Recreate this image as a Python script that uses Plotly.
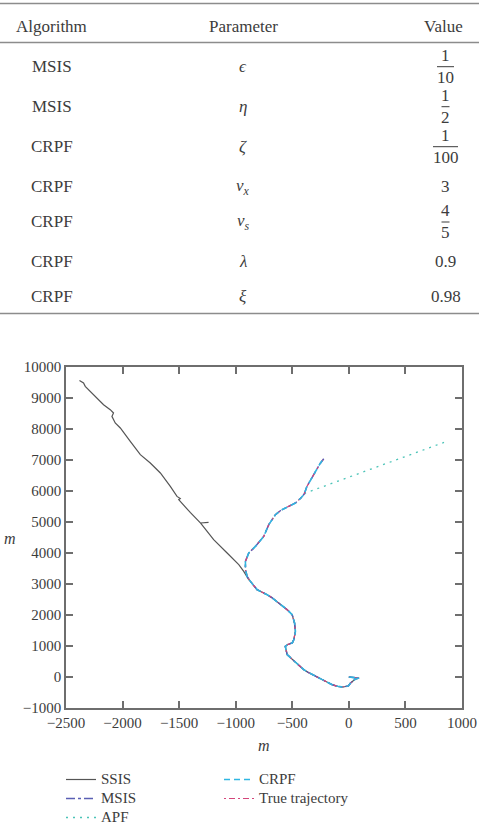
import plotly.graph_objects as go

# ---------------- data ----------------
# table
algorithms = ["MSIS", "MSIS", "CRPF", "CRPF", "CRPF", "CRPF", "CRPF"]
parameters = ["<i>ϵ</i>", "<i>η</i>", "<i>ζ</i>", "<i>ν</i><sub><i>x</i></sub>",
              "<i>ν</i><sub><i>s</i></sub>", "<i>λ</i>", "<i>ξ</i>"]
values = [("1", "10"), ("1", "2"), ("1", "100"), "3", ("4", "5"), "0.9", "0.98"]

# common part of the trajectories (from origin up to the split near -900, 3100)
lower_x = [0, 90, 60, 40, 15, -5, -58, -100, -147, -190, -235, -280, -324, -360, -398,
           -430, -457, -490, -516, -545, -562, -540, -500, -487, -472, -475, -480,
           -501, -545, -590, -634, -680, -722, -770, -811, -870]
lower_y = [0, -35, -60, -120, -194, -290, -323, -300, -248, -170, -87, -10, 74, 150, 235,
           340, 452, 540, 613, 720, 987, 1050, 1100, 1203, 1471, 1600, 1742,
           2010, 2171, 2300, 2439, 2560, 2655, 2740, 2816, 3084]

# upper part followed by MSIS / CRPF / true trajectory
upper_x = [-899, -914, -914, -885, -826, -752, -708, -649, -600, -560, -472, -420,
           -395, -370, -330, -290, -255, -222]
upper_y = [3245, 3461, 3729, 4000, 4213, 4536, 4913, 5236, 5380, 5452, 5613, 5790,
           5900, 6150, 6420, 6690, 6880, 7040]

# APF leaves the common track near (-420, 5800)
apf_upper_x = [-899, -914, -914, -885, -826, -752, -708, -649, -600, -560, -472, -420,
               -383, -73, 841]
apf_upper_y = [3245, 3461, 3729, 4000, 4213, 4536, 4913, 5236, 5380, 5452, 5613, 5790,
               5936, 6349, 7568]

# SSIS leaves the common track near (-880, 3100)
ssis_upper_x = [-885, -929, -973, -1076, -1195, -1312, -1240, -1312, -1400, -1489,
                -1504, -1490, -1519, -1578, -1666, -1755, -1843, -1932, -2020, -2065,
                -2094, -2080, -2109, -2168, -2257, -2330, -2345, -2381]
ssis_upper_y = [3139, 3407, 3623, 4000, 4429, 4968, 4990, 4968, 5300, 5665,
                5720, 5760, 5826, 6149, 6581, 6904, 7171, 7601, 8033, 8194,
                8407, 8517, 8623, 8784, 9107, 9375, 9484, 9568]

x_ticks = [-2500, -2000, -1500, -1000, -500, 0, 500, 1000]
x_tick_labels = ["−2500", "−2000", "−1500", "−1000", "−500", "0", "500", "1000"]
y_ticks = [-1000, 0, 1000, 2000, 3000, 4000, 5000, 6000, 7000, 8000, 9000, 10000]
y_tick_labels = ["−1000", "0", "1000", "2000", "3000", "4000", "5000", "6000", "7000",
                 "8000", "9000", "10000"]

# ---------------- layout helpers ----------------
W, H = 479, 829
ML, MR, MT, MB = 66, 17, 367, 121
PW, PH = W - ML - MR, H - MT - MB


def px2x(px):
    return (px - ML) / PW


def py2y(py):
    return (H - MB - py) / PH


FONT = "Liberation Serif, Times New Roman, serif"
TXT = "#3c3c3c"
AX = "#6e6e6e"


def lname(s):
    return '<span style="font-size:15px">' + s + "</span>"


fig = go.Figure()

common_x = lower_x + upper_x
common_y = lower_y + upper_y

fig.add_trace(go.Scatter(x=lower_x + ssis_upper_x, y=lower_y + ssis_upper_y, mode="lines",
                         name=lname("SSIS"), legendrank=1,
                         line=dict(color="#555555", width=1.2)))
fig.add_trace(go.Scatter(x=lower_x + apf_upper_x, y=lower_y + apf_upper_y, mode="lines",
                         name=lname("APF"), legendrank=5,
                         line=dict(color="#4cc4b8", width=1.3, dash="2px,5px")))
fig.add_trace(go.Scatter(x=common_x, y=common_y, mode="lines",
                         name=lname("MSIS"), legendrank=3,
                         line=dict(color="#5a5fb4", width=1.5, dash="dashdot")))
fig.add_trace(go.Scatter(x=common_x, y=common_y, mode="lines",
                         name=lname("True trajectory"), legendrank=4,
                         line=dict(color="#d4457a", width=1.2, dash="2px,3px,6px,3px")))
fig.add_trace(go.Scatter(x=common_x, y=common_y, mode="lines",
                         name=lname("CRPF"), legendrank=2,
                         line=dict(color="#2fb6e2", width=1.6, dash="6px,4px")))

# ---------------- table ----------------
shapes = []
annotations = []
for py in (3.5, 42.5, 313.5):
    shapes.append(dict(type="line", xref="paper", yref="paper",
                       x0=px2x(0), x1=px2x(W), y0=py2y(py), y1=py2y(py),
                       line=dict(color="#8c8c8c", width=1.5)))


def txt(text, px, py, xanchor="center", size=17):
    annotations.append(dict(text=text, xref="paper", yref="paper", x=px2x(px), y=py2y(py),
                            xanchor=xanchor, yanchor="middle", showarrow=False,
                            font=dict(family=FONT, size=size, color=TXT)))


txt("Algorithm", 14, 26, "left")
txt("Parameter", 243, 26)
txt("Value", 465, 26, "right")

row_y = [66.7, 106.7, 146.7, 186.7, 222.0, 261.7, 296.7]
bar_w = {"10": 17, "2": 8, "100": 25, "5": 8}
for alg, par, val, ry in zip(algorithms, parameters, values, row_y):
    txt(alg, 52, ry)
    txt(par, 243, ry)
    if isinstance(val, tuple):
        num, den = val
        txt(num, 445.5, ry - 11.3)
        txt(den, 445.5, ry + 11.0)
        hw = bar_w[den] / 2
        shapes.append(dict(type="line", xref="paper", yref="paper",
                           x0=px2x(445.5 - hw), x1=px2x(445.5 + hw),
                           y0=py2y(ry), y1=py2y(ry),
                           line=dict(color=TXT, width=1)))
    else:
        txt(val, 445.5, ry)

# axis titles
annotations.append(dict(text="<i>m</i>", xref="paper", yref="paper", x=px2x(264), y=py2y(745),
                        xanchor="center", yanchor="middle", showarrow=False,
                        font=dict(family=FONT, size=16, color=TXT)))
annotations.append(dict(text="<i>m</i>", xref="paper", yref="paper", x=px2x(10), y=py2y(538),
                        xanchor="center", yanchor="middle", showarrow=False,
                        font=dict(family=FONT, size=16, color=TXT)))

axis_common = dict(showline=True, linecolor=AX, linewidth=1.5, mirror="ticks",
                   ticks="inside", ticklen=7, tickwidth=1.5, tickcolor=AX,
                   showgrid=False, zeroline=False,
                   tickfont=dict(family=FONT, size=15, color=TXT))

fig.update_layout(
    width=W, height=H,
    margin=dict(l=ML, r=MR, t=MT, b=MB, autoexpand=False),
    paper_bgcolor="white", plot_bgcolor="white",
    xaxis=dict(range=[-2500, 1000], tickvals=x_ticks, ticktext=x_tick_labels, **axis_common),
    yaxis=dict(range=[-1000, 10000], tickvals=y_ticks, ticktext=y_tick_labels, **axis_common),
    shapes=shapes,
    annotations=annotations,
    showlegend=True,
    legend=dict(orientation="h", x=px2x(61), y=py2y(765), xanchor="left", yanchor="top",
                entrywidth=113, entrywidthmode="pixels", traceorder="normal",
                font=dict(family=FONT, size=12, color=TXT), bgcolor="rgba(0,0,0,0)",
                itemwidth=30, tracegroupgap=0),
)

fig.write_html("out.html")
